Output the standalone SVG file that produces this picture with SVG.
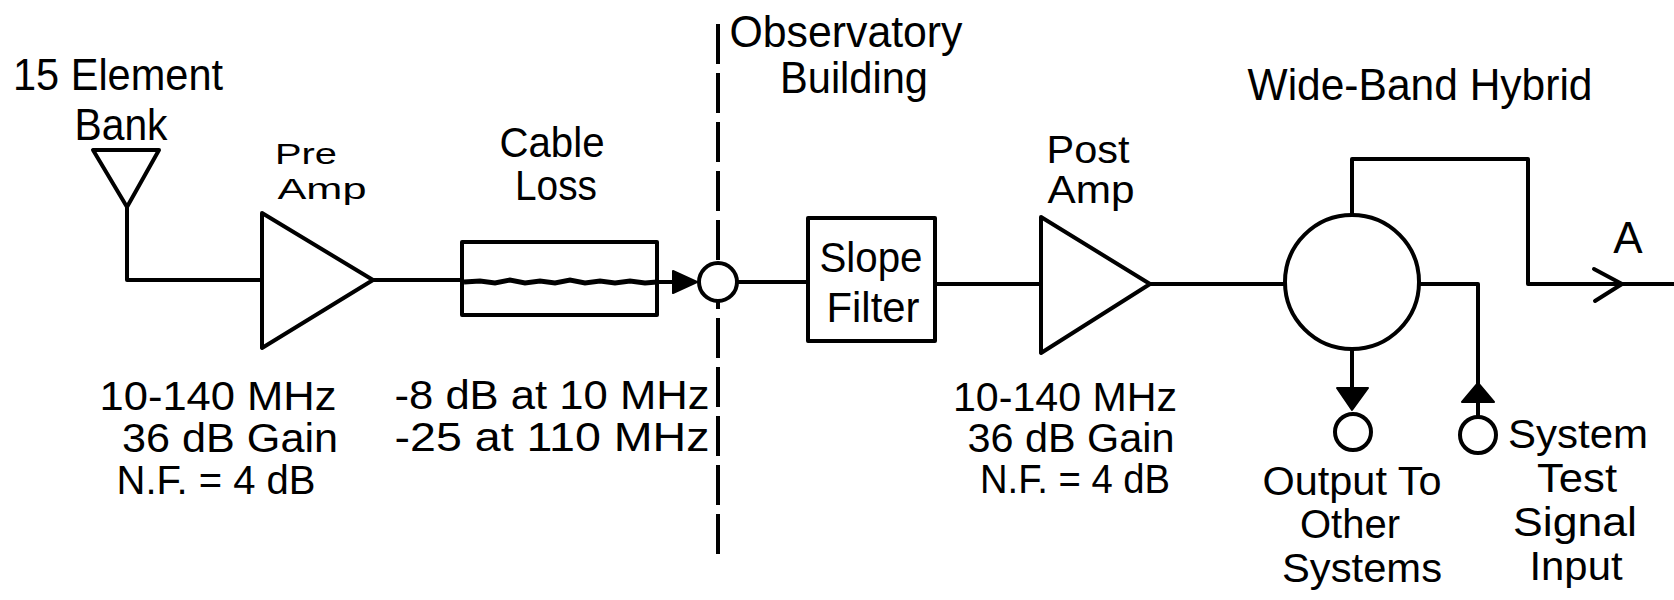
<svg xmlns="http://www.w3.org/2000/svg" width="1674" height="600" viewBox="0 0 1674 600">
<defs>
<style>
.t{font-family:"Liberation Sans",Arial,sans-serif;font-size:44px;fill:#000;text-anchor:middle}
.s{fill:none;stroke:#000;stroke-width:4;stroke-linejoin:round;stroke-linecap:round}
.w{fill:#fff;stroke:#000;stroke-width:4}
.f{fill:#000;stroke:#000;stroke-width:2;stroke-linejoin:round}
</style>
</defs>
<rect width="1674" height="600" fill="#fff"/>
<g id="connectors">
<path class="s" d="M127,207 V280 H262"/>
<path class="s" d="M373,280 H462"/>
<path class="s" d="M657,282 H674"/>
<path class="s" d="M737,282 H808"/>
<path class="s" d="M935,284 H1041"/>
<path class="s" d="M1150,284 H1285"/>
<path class="s" d="M1352,215 V159 H1528 V284 H1674"/>
<path class="s" d="M1594,269 L1622,284 L1595,301"/>
<path class="s" d="M1419,284 H1478 V386"/>
<path class="s" d="M1478,402 V417"/>
<path class="s" d="M1352,349 V388"/>
</g>
<g id="divider">
<line x1="718" y1="24" x2="718" y2="555" stroke="#000" stroke-width="4" stroke-dasharray="40 9"/>
</g>
<g id="antenna">
<path class="s" d="M93,150 H159 L127,207 Z"/>
<text class="t" x="118" y="90" textLength="210" lengthAdjust="spacingAndGlyphs">15 Element</text>
<text class="t" x="121" y="140" textLength="93" lengthAdjust="spacingAndGlyphs">Bank</text>
</g>
<g id="preamp">
<path class="s" d="M262,213 L373,280 L262,348 Z"/>
<text class="t" x="306" y="164" style="font-size:30px" textLength="62" lengthAdjust="spacingAndGlyphs">Pre</text>
<text class="t" x="322" y="199" style="font-size:30px" textLength="89" lengthAdjust="spacingAndGlyphs">Amp</text>
<text class="t" x="218" y="410" style="font-size:41px" textLength="237" lengthAdjust="spacingAndGlyphs">10-140 MHz</text>
<text class="t" x="230" y="452" style="font-size:41px" textLength="216" lengthAdjust="spacingAndGlyphs">36 dB Gain</text>
<text class="t" x="216" y="494" style="font-size:41px" textLength="199" lengthAdjust="spacingAndGlyphs">N.F. = 4 dB</text>
</g>
<g id="cable">
<rect class="s" x="462" y="242" width="195" height="73"/>
<path d="M464,282 L480,281 L495,283 L510,280 L525,283 L540,281 L555,283 L570,280 L585,283 L600,281 L615,283 L630,281 L645,283 L657,282" fill="none" stroke="#000" stroke-width="5"/>
<text class="t" x="552" y="157" style="font-size:42px" textLength="105" lengthAdjust="spacingAndGlyphs">Cable</text>
<text class="t" x="556" y="200" style="font-size:42px" textLength="82" lengthAdjust="spacingAndGlyphs">Loss</text>
<text class="t" x="552" y="409" style="font-size:41px" textLength="315" lengthAdjust="spacingAndGlyphs">-8 dB at 10 MHz</text>
<text class="t" x="552" y="451" style="font-size:41px" textLength="315" lengthAdjust="spacingAndGlyphs">-25 at 110 MHz</text>
</g>
<g id="junction">
<path class="f" d="M673,271 L697,282 L673,293 Z"/>
<circle class="w" cx="718" cy="282" r="19"/>
</g>
<g id="building">
<text class="t" x="846" y="47" textLength="233" lengthAdjust="spacingAndGlyphs">Observatory</text>
<text class="t" x="854" y="93" textLength="148" lengthAdjust="spacingAndGlyphs">Building</text>
</g>
<g id="slope-filter">
<rect class="s" x="808" y="218" width="127" height="123"/>
<text class="t" x="871" y="272" style="font-size:42px" textLength="103" lengthAdjust="spacingAndGlyphs">Slope</text>
<text class="t" x="873" y="322" style="font-size:42px" textLength="93" lengthAdjust="spacingAndGlyphs">Filter</text>
</g>
<g id="postamp">
<path class="s" d="M1041,217 L1150,284 L1041,353 Z"/>
<text class="t" x="1088" y="163" style="font-size:39px" textLength="83" lengthAdjust="spacingAndGlyphs">Post</text>
<text class="t" x="1091" y="203" style="font-size:39px" textLength="87" lengthAdjust="spacingAndGlyphs">Amp</text>
<text class="t" x="1065" y="411" style="font-size:40px" textLength="224" lengthAdjust="spacingAndGlyphs">10-140 MHz</text>
<text class="t" x="1071" y="452" style="font-size:40px" textLength="207" lengthAdjust="spacingAndGlyphs">36 dB Gain</text>
<text class="t" x="1075" y="493" style="font-size:40px" textLength="190" lengthAdjust="spacingAndGlyphs">N.F. = 4 dB</text>
</g>
<g id="hybrid">
<circle class="w" cx="1352" cy="282" r="67"/>
<text class="t" x="1420" y="100" textLength="345" lengthAdjust="spacingAndGlyphs">Wide-Band Hybrid</text>
</g>
<g id="output-a">
<text class="t" x="1628" y="253">A</text>
</g>
<g id="output-other">
<path class="f" d="M1337,388 H1368 L1352,410 Z"/>
<circle class="s" cx="1353" cy="432" r="18"/>
<text class="t" x="1352" y="495" style="font-size:41px" textLength="179" lengthAdjust="spacingAndGlyphs">Output To</text>
<text class="t" x="1350" y="538" style="font-size:41px" textLength="100" lengthAdjust="spacingAndGlyphs">Other</text>
<text class="t" x="1362" y="582" style="font-size:41px" textLength="160" lengthAdjust="spacingAndGlyphs">Systems</text>
</g>
<g id="test-input">
<path class="f" d="M1478,383 L1494,402 H1462 Z"/>
<circle class="s" cx="1478" cy="435" r="18"/>
<text class="t" x="1578" y="448" style="font-size:40px" textLength="140" lengthAdjust="spacingAndGlyphs">System</text>
<text class="t" x="1577" y="492" style="font-size:40px" textLength="80" lengthAdjust="spacingAndGlyphs">Test</text>
<text class="t" x="1575" y="536" style="font-size:40px" textLength="124" lengthAdjust="spacingAndGlyphs">Signal</text>
<text class="t" x="1576" y="580" style="font-size:40px" textLength="93" lengthAdjust="spacingAndGlyphs">Input</text>
</g>
</svg>
